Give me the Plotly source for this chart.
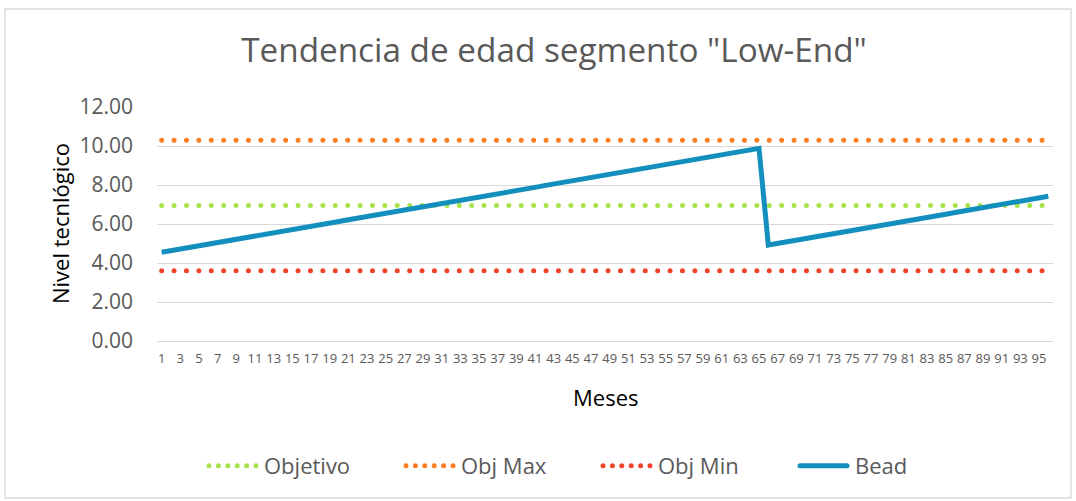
import plotly.graph_objects as go

# ---- data ----
meses = list(range(1, 97))
tick_meses = list(range(1, 96, 2))

objetivo = [6.95] * len(meses)
obj_max = [10.3] * len(meses)
obj_min = [3.6] * len(meses)

bead = [
    4.55, 4.63, 4.72, 4.80, 4.88, 4.97, 5.05, 5.13, 5.22, 5.30, 5.38, 5.47,
    5.55, 5.63, 5.72, 5.80, 5.88, 5.97, 6.05, 6.13, 6.22, 6.30, 6.38, 6.47,
    6.55, 6.63, 6.72, 6.80, 6.88, 6.97, 7.05, 7.13, 7.22, 7.30, 7.38, 7.47,
    7.55, 7.63, 7.72, 7.80, 7.88, 7.97, 8.05, 8.13, 8.22, 8.30, 8.38, 8.47,
    8.55, 8.63, 8.72, 8.80, 8.88, 8.97, 9.05, 9.13, 9.22, 9.30, 9.38, 9.47,
    9.55, 9.63, 9.72, 9.80, 9.88,
    4.92, 5.00, 5.09, 5.17, 5.25, 5.34, 5.42, 5.50, 5.59, 5.67, 5.75, 5.84,
    5.92, 6.00, 6.09, 6.17, 6.25, 6.34, 6.42, 6.50, 6.59, 6.67, 6.75, 6.84,
    6.92, 7.00, 7.09, 7.17, 7.25, 7.34, 7.42,
]

series_names = ["Objetivo", "Obj Max", "Obj Min", "Bead"]
y_title = "Nivel tecnlógico"
x_title = "Meses"

# ---- style ----
FONT = "Open Sans"
GRAY_TXT = "#595959"
GRID = "#D9D9D9"
C_GREEN = "#A8E34C"
C_ORANGE = "#FC7E23"
C_RED = "#F0442A"
C_BLUE = "#138FBE"
DOT = "4.5px,7.9px"

fig = go.Figure()
for name, vals, col in [
    (series_names[0], objetivo, C_GREEN),
    (series_names[1], obj_max, C_ORANGE),
    (series_names[2], obj_min, C_RED),
]:
    fig.add_trace(go.Scatter(x=meses, y=vals, name=name, mode="lines",
                             line=dict(color=col, width=5, dash=DOT)))
fig.add_trace(go.Scatter(x=meses, y=bead, name=series_names[3], mode="lines",
                         line=dict(color=C_BLUE, width=5)))

# plot area geometry (px)
L, R, T, B = 157, 1053, 107, 341
W, H = 1076, 501


def px_x(px):
    return (px - L) / (R - L)


def px_y(py):
    return (B - py) / (B - T)


fig.update_layout(
    width=W, height=H, autosize=False,
    margin=dict(l=L, r=W - R, t=T, b=H - B, pad=0),
    paper_bgcolor="white", plot_bgcolor="white",
    font=dict(family=FONT, color=GRAY_TXT),
    hovermode=False,
    title=dict(text='Tendencia de edad segmento "Low-End"',
               font=dict(family=FONT, size=33.3, color=GRAY_TXT),
               xref="container", x=554 / W, xanchor="center",
               yref="container", y=1 - 50 / H, yanchor="middle"),
    showlegend=True,
    legend=dict(orientation="h", xref="container", x=598 / W, xanchor="center",
                yref="container", y=1 - 466 / H, yanchor="middle",
                font=dict(family=FONT, size=22, color=GRAY_TXT),
                itemwidth=50,
                entrywidth=132, entrywidthmode="pixels",
                bgcolor="rgba(0,0,0,0)"),
    xaxis=dict(range=[0.5, 96.5], tickmode="array", tickvals=tick_meses,
               ticktext=[str(v) for v in tick_meses], tickangle=0,
               showgrid=False, zeroline=False, showline=True,
               linecolor=GRID, linewidth=1.3, ticks="",
               ticklabelstandoff=5, automargin=False,
               tickfont=dict(family=FONT, size=13, color=GRAY_TXT)),
    yaxis=dict(range=[0, 12], dtick=2, tickformat=".2f",
               showgrid=True, gridcolor=GRID, gridwidth=1.3,
               zeroline=False, showline=False, ticks="",
               ticklabelstandoff=23, automargin=False,
               tickfont=dict(family=FONT, size=21, color=GRAY_TXT)),
    annotations=[
        dict(text=y_title, textangle=-90, showarrow=False,
             xref="paper", x=px_x(60), xanchor="center",
             yref="paper", y=0.5, yanchor="middle",
             font=dict(family=FONT, size=22, color="black")),
        dict(text=x_title, showarrow=False,
             xref="paper", x=0.5, xanchor="center",
             yref="paper", y=px_y(397), yanchor="middle",
             font=dict(family=FONT, size=22, color="black")),
    ],
    shapes=[dict(type="rect", xref="paper", yref="paper",
                 x0=px_x(5), x1=px_x(1071), y0=px_y(498), y1=px_y(9),
                 line=dict(color=GRID, width=1.3), fillcolor="rgba(0,0,0,0)",
                 layer="below")],
)

# page reset + Excel-like round dots and longer legend symbols
post = """
document.body.style.margin = '0';
document.body.style.overflow = 'hidden';
var gd = document.getElementById('{plot_id}');
function excelStyle() {
  gd.querySelectorAll('.scatterlayer path.js-line').forEach(function (p) {
    var da = p.style.strokeDasharray;
    if (da && da !== 'none') {
      p.style.strokeLinecap = 'round';
      p.style.strokeDasharray = '0px,12.4px';
    }
  });
  gd.querySelectorAll('.legend path.js-line').forEach(function (p) {
    p.setAttribute('d', 'M5,0h47');
    p.style.strokeLinecap = 'round';
    var da = p.style.strokeDasharray;
    if (da && da !== 'none') {
      p.style.strokeDasharray = '0px,9.4px';
    }
  });
}
excelStyle();
gd.on('plotly_afterplot', excelStyle);
"""

fig.write_html("out.html", post_script=post,
               config={"displayModeBar": False})
